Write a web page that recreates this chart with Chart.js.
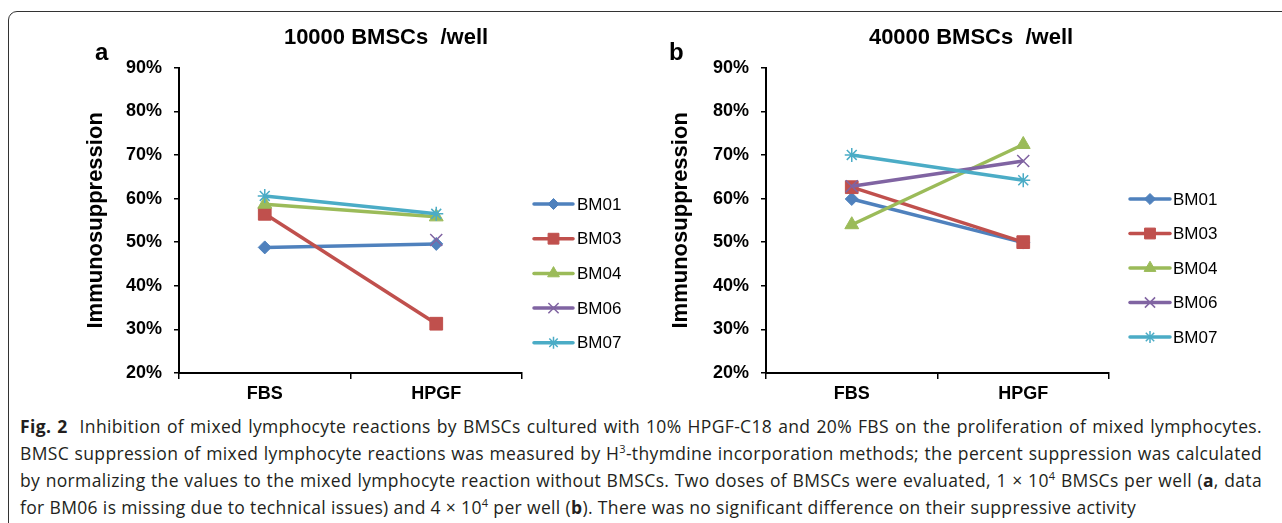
<!DOCTYPE html>
<html>
<head>
<meta charset="utf-8">
<script src="https://cdn.jsdelivr.net/npm/chart.js@4.4.1/dist/chart.umd.min.js"></script>
<style>
  html, body { margin: 0; padding: 0; background: #fff; }
  body { width: 1282px; height: 523px; overflow: hidden; position: relative; font-family: "Liberation Sans", Arial, sans-serif; }
  #frame { position: absolute; left: 8px; top: 11px; width: 1320px; height: 620px; border: 1px solid #333; border-radius: 9px; }
  canvas { position: absolute; top: 0; }
  #pa { left: 60px; }
  #pb { left: 650px; }
  .tag { position: absolute; top: 40px; font: bold 24px/24px "Liberation Sans", Arial, sans-serif; color: #000; }
  #caption { position: absolute; left: 20px; top: 413px; width: 1242px; font-family: "Open Sans", sans-serif; font-size: 17.5px; letter-spacing: 0.35px; line-height: 27px; color: #231f20; }
  #caption div { white-space: nowrap; }
  #caption .j { text-align: justify; text-align-last: justify; }
  #caption b { font-weight: 700; }
  sup { font-size: 11px; line-height: 0; vertical-align: 7px; }
</style>
</head>
<body>
<div id="frame"></div>
<canvas id="pa" width="652" height="413"></canvas>
<canvas id="pb" width="642" height="413"></canvas>
<div class="tag" style="left:95px">a</div>
<div class="tag" style="left:669px">b</div>
<div id="caption">
  <div class="j"><b>Fig. 2</b>&nbsp;&nbsp;Inhibition of mixed lymphocyte reactions by BMSCs cultured with 10% HPGF-C18 and 20% FBS on the proliferation of mixed lymphocytes.</div>
  <div class="j">BMSC suppression of mixed lymphocyte reactions was measured by H<sup>3</sup>-thymdine incorporation methods; the percent suppression was calculated</div>
  <div class="j">by normalizing the values to the mixed lymphocyte reaction without BMSCs. Two doses of BMSCs were evaluated, 1 × 10<sup>4</sup> BMSCs per well (<b>a</b>, data</div>
  <div>for BM06 is missing due to technical issues) and 4 × 10<sup>4</sup> per well (<b>b</b>). There was no significant difference on their suppressive activity</div>
</div>
<script>
// data (percent suppression)
const categories = ["FBS", "HPGF"];
const seriesNames = ["BM01", "BM03", "BM04", "BM06", "BM07"];
const colors = ["#4F81BD", "#C0504D", "#9BBB59", "#8064A2", "#4BACC6"];

// panel a: 10000 BMSCs /well (BM06 has no FBS value)
const a_BM01 = [48.8, 49.6];
const a_BM03 = [56.5, 31.3];
const a_BM04 = [58.7, 55.8];
const a_BM06 = [null, 50.5];
const a_BM07 = [60.6, 56.5];

// panel b: 40000 BMSCs /well
const b_BM01 = [59.9, 49.9];
const b_BM03 = [62.6, 50.0];
const b_BM04 = [54.0, 72.4];
const b_BM06 = [62.8, 68.6];
const b_BM07 = [70.0, 64.2];

const yMin = 20, yMax = 90, yStep = 10;

const markers = [
  { style: "rectRot", r: 6.5, bw: 1 },
  { style: "rect", r: 9, bw: 1 },
  { style: "triangle", r: 8, bw: 1 },
  { style: "crossRot", r: 8.5, bw: 1.5 },
  { style: "star", r: 7, bw: 1.5 }
];

const FONT = "'Liberation Sans', Arial, sans-serif";

// legend drawn beside the plot: line with the marker in the middle
const sideLegend = {
  id: "sideLegend",
  afterDraw(chart, args, opts) {
    const ctx = chart.ctx;
    const x0 = chart.chartArea.right + opts.dx;
    ctx.save();
    chart.data.datasets.forEach((ds, i) => {
      const y = opts.top + i * opts.gap;
      ctx.strokeStyle = ds.borderColor;
      ctx.lineWidth = ds.borderWidth;
      ctx.lineCap = "round";
      ctx.beginPath();
      ctx.moveTo(x0, y);
      ctx.lineTo(x0 + opts.len, y);
      ctx.stroke();
      ctx.lineCap = "butt";
      ctx.fillStyle = ds.pointBackgroundColor;
      ctx.strokeStyle = ds.pointBorderColor;
      ctx.lineWidth = ds.pointBorderWidth;
      Chart.helpers.drawPoint(ctx, {
        pointStyle: ds.pointStyle,
        radius: ds.pointRadius * 0.85,
        borderWidth: ds.pointBorderWidth,
        rotation: 0
      }, x0 + opts.len / 2, y);
      ctx.fillStyle = "#000";
      ctx.font = "17px " + FONT;
      ctx.textBaseline = "middle";
      ctx.textAlign = "left";
      ctx.fillText(ds.label, x0 + opts.len + opts.textGap, y + 1);
    });
    ctx.restore();
  }
};

function makeChart(id, values, o) {
  return new Chart(document.getElementById(id), {
    type: "line",
    data: {
      labels: categories,
      datasets: seriesNames.map((name, i) => ({
        label: name,
        data: values[i],
        borderColor: colors[i],
        backgroundColor: colors[i],
        borderWidth: 3.5,
        pointStyle: markers[i].style,
        pointRadius: markers[i].r,
        pointBorderWidth: markers[i].bw,
        pointBackgroundColor: colors[i],
        pointBorderColor: colors[i],
        tension: 0,
        fill: false,
        order: seriesNames.length - i
      }))
    },
    options: {
      responsive: false,
      animation: false,
      events: [],
      layout: { padding: 0 },
      plugins: {
        legend: { display: false },
        tooltip: { enabled: false },
        title: {
          display: true,
          text: o.title,
          color: "#000",
          font: { family: FONT, size: 22, weight: "bold" },
          padding: { top: 25, bottom: 16.3 }
        },
        sideLegend: o.legend
      },
      scales: {
        x: {
          offset: true,
          grid: { offset: true, drawOnChartArea: false, color: "#000", lineWidth: 1.5, tickLength: 6 },
          border: { color: "#000", width: 2 },
          ticks: { color: "#000", padding: 4, font: { family: FONT, size: 18, weight: "bold" } },
          afterFit: s => { s.height = 40; }
        },
        y: {
          min: yMin,
          max: yMax,
          grid: { drawOnChartArea: false, color: "#000", lineWidth: 1.5, tickLength: 5 },
          border: { color: "#000", width: 2 },
          ticks: {
            stepSize: yStep,
            color: "#000",
            padding: 12,
            font: { family: FONT, size: 18, weight: "bold" },
            callback: v => v + "%"
          },
          title: {
            display: true,
            text: "Immunosuppression",
            color: "#000",
            font: { family: FONT, size: 22, weight: "bold" },
            padding: { top: o.yTitlePad, bottom: 0 }
          },
          afterFit: s => { s.width = o.yWidth; }
        },
        side: {
          type: "linear",
          position: "right",
          display: true,
          grid: { display: false },
          border: { display: false },
          ticks: { display: false },
          afterFit: s => { s.width = o.sideWidth; }
        }
      }
    },
    plugins: [sideLegend]
  });
}

makeChart("pa", [a_BM01, a_BM03, a_BM04, a_BM06, a_BM07], {
  title: "10000 BMSCs  /well",
  yWidth: 119,
  yTitlePad: 22.8,
  sideWidth: 190,
  legend: { dx: 12, len: 39, textGap: 4, top: 204, gap: 34.7 }
});

makeChart("pb", [b_BM01, b_BM03, b_BM04, b_BM06, b_BM07], {
  title: "40000 BMSCs  /well",
  yWidth: 116,
  yTitlePad: 17.8,
  sideWidth: 183,
  legend: { dx: 21, len: 40, textGap: 3, top: 199, gap: 34.5 }
});
</script>
</body>
</html>
